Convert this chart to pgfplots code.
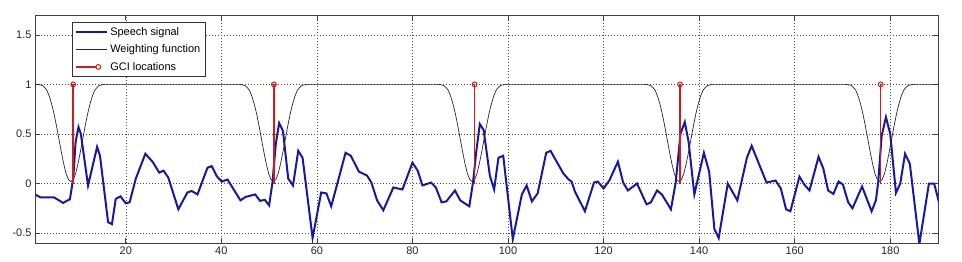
\documentclass[border=0pt]{standalone}
\usepackage{fontspec}
\setmainfont{Liberation Sans}
\usepackage{pgfplots}
\pgfplotsset{compat=1.18}
\definecolor{sigblue}{RGB}{25,25,160}
\definecolor{gcired}{RGB}{200,30,30}
\begin{document}
\begin{tikzpicture}
\path[use as bounding box] (-35bp,-19bp) rectangle (927bp,243bp);
\begin{axis}[
  at={(0,0)}, anchor=south west,
  scale only axis, width=903bp, height=228bp,
  xmin=1, xmax=190, ymin=-0.6, ymax=1.7,
  xtick={20,40,60,80,100,120,140,160,180},
  ytick={-0.5,0,0.5,1,1.5},
  yticklabels={-0.5,0,0.5,1,1.5},
  grid=major,
  grid style={black!70, line width=0.5bp, dash pattern=on 0.7bp off 2.3bp},
  axis line style={black!75, line width=0.7bp},
  tick style={black!75, line width=0.6bp},
  major tick length=5bp,
  tick align=inside,
  tick label style={font=\fontsize{11}{13}\selectfont, black!85},
  /pgf/number format/assume math mode=true,
  clip=true,
  legend cell align=left,
  legend image code/.code={\draw[#1] (0bp,0bp) -- (31bp,0bp);},
  legend style={at={(0.041,0.969)}, anchor=north west, draw=black!80,
    fill=white, font=\fontsize{11}{13}\selectfont, line width=0.6bp,
    inner xsep=3bp, inner ysep=3bp, row sep=4bp},
]
\addplot[sigblue, line width=2bp] coordinates {
(1.15,-0.115)(2.2,-0.14)(5.0,-0.14)(6.9,-0.196)(7.8,-0.17)(8.3,-0.16)(9.0,0.05)(9.5,0.42)(10.1,0.57)(10.6,0.50)(12.1,-0.02)(14.0,0.37)(14.6,0.28)(16.3,-0.39)(17.1,-0.41)(17.9,-0.155)(18.9,-0.13)(20.0,-0.20)(20.8,-0.19)(22.1,0.05)(24.1,0.30)(25.6,0.22)(27.0,0.11)(27.9,0.13)(28.9,0.06)(31.0,-0.26)(32.9,-0.09)(33.8,-0.075)(35.0,-0.11)(37.1,0.16)(38.0,0.175)(39.1,0.07)(40.1,0.02)(41.3,0.04)(44.0,-0.17)(45.1,-0.135)(47.1,-0.11)(48.1,-0.175)(49.1,-0.165)(50.0,-0.22)(50.7,0.01)(51.4,0.40)(52.1,0.61)(52.9,0.53)(54.0,0.05)(55.0,-0.02)(56.1,0.33)(57.0,0.26)(59.1,-0.55)(60.9,-0.09)(62.0,-0.10)(63.0,-0.23)(66.0,0.31)(67.1,0.28)(68.8,0.12)(70.5,0.08)(71.4,0.01)(72.6,-0.17)(73.9,-0.27)(76.0,-0.04)(77.9,-0.06)(80.0,0.21)(81.1,0.13)(82.1,-0.02)(83.9,0.01)(84.9,-0.04)(86.1,-0.19)(87.1,-0.18)(88.9,-0.07)(90.0,-0.17)(91.9,-0.23)(92.7,0.02)(93.3,0.30)(94.1,0.60)(94.9,0.54)(96.2,0.08)(97.1,-0.06)(98.0,0.26)(99.0,0.28)(101.0,-0.56)(102.9,-0.11)(103.9,-0.02)(105.0,-0.18)(106.2,-0.10)(108.0,0.31)(108.9,0.33)(111.6,0.10)(112.7,0.04)(113.3,0.02)(114.0,-0.08)(116.1,-0.28)(118.0,0.01)(118.8,0.02)(120.0,-0.05)(121.2,0.03)(123.0,0.22)(124.1,0.01)(125.1,-0.07)(127.0,0.0)(129.0,-0.21)(129.9,-0.19)(131.2,-0.07)(132.2,-0.11)(134.1,-0.26)(135.1,0.01)(136.1,0.50)(137.0,0.62)(137.8,0.42)(139.0,-0.11)(141.0,0.31)(142.1,0.12)(143.2,-0.46)(144.1,-0.55)(146.0,0.0)(148.0,-0.17)(150.0,0.26)(151.0,0.38)(154.1,0.01)(156.0,0.03)(157.1,-0.05)(158.2,-0.26)(159.1,-0.28)(161.0,0.07)(162.0,-0.01)(163.1,-0.07)(165.0,0.27)(166.0,0.15)(167.0,-0.07)(168.1,-0.105)(169.2,0.02)(170.1,-0.01)(171.2,-0.19)(172.1,-0.25)(174.1,-0.03)(176.1,-0.28)(177.0,-0.17)(177.5,0.02)(178.2,0.48)(179.1,0.67)(180.0,0.50)(181.2,-0.095)(182.1,0.0)(183.1,0.30)(184.1,0.20)(186.1,-0.61)(188.1,0.0)(189.2,0.0)(190.2,-0.19)
};
\addlegendentry{Speech signal}
\addplot[black!85, line width=0.7bp] coordinates {
(1,1)(1.5,1)(2.5,0.99)(3,0.97)(3.5,0.94)(4,0.88)(4.5,0.80)(5,0.70)(5.5,0.58)(6,0.45)(6.5,0.32)(7,0.20)(7.5,0.10)(8,0.04)(8.5,0.02)(9,0.04)(9.5,0.10)(10,0.20)(10.5,0.32)(11,0.45)(11.5,0.58)(12,0.70)(12.5,0.80)(13,0.88)(13.5,0.94)(14,0.97)(14.5,0.99)(15.5,1)
(43.9,1)(44.9,0.99)(45.4,0.97)(45.9,0.94)(46.4,0.88)(46.9,0.80)(47.4,0.70)(47.9,0.58)(48.4,0.45)(48.9,0.32)(49.4,0.20)(49.9,0.10)(50.4,0.04)(50.9,0.02)(51.4,0.04)(51.9,0.10)(52.4,0.20)(52.9,0.32)(53.4,0.45)(53.9,0.58)(54.4,0.70)(54.9,0.80)(55.4,0.88)(55.9,0.94)(56.4,0.97)(56.9,0.99)(57.9,1)
(85.5,1)(86.5,0.99)(87,0.97)(87.5,0.94)(88,0.88)(88.5,0.80)(89,0.70)(89.5,0.58)(90,0.45)(90.5,0.32)(91,0.20)(91.5,0.10)(92,0.04)(92.5,0.02)(93,0.04)(93.5,0.10)(94,0.20)(94.5,0.32)(95,0.45)(95.5,0.58)(96,0.70)(96.5,0.80)(97,0.88)(97.5,0.94)(98,0.97)(98.5,0.99)(99.5,1)
(128.8,1)(129.8,0.99)(130.3,0.97)(130.8,0.94)(131.3,0.88)(131.8,0.80)(132.3,0.70)(132.8,0.58)(133.3,0.45)(133.8,0.32)(134.3,0.20)(134.8,0.10)(135.3,0.04)(135.8,0.02)(136.3,0.04)(136.8,0.10)(137.3,0.20)(137.8,0.32)(138.3,0.45)(138.8,0.58)(139.3,0.70)(139.8,0.80)(140.3,0.88)(140.8,0.94)(141.3,0.97)(141.8,0.99)(142.8,1)
(170.8,1)(171.8,0.99)(172.3,0.97)(172.8,0.94)(173.3,0.88)(173.8,0.80)(174.3,0.70)(174.8,0.58)(175.3,0.45)(175.8,0.32)(176.3,0.20)(176.8,0.10)(177.3,0.04)(177.8,0.02)(178.3,0.04)(178.8,0.10)(179.3,0.20)(179.8,0.32)(180.3,0.45)(180.8,0.58)(181.3,0.70)(181.8,0.80)(182.3,0.88)(182.8,0.94)(183.3,0.97)(183.8,0.99)(184.8,1)(190,1)
};
\addlegendentry{Weighting function}
\addplot[ycomb, gcired, line width=1.6bp, mark=o, mark size=2.4bp,
  mark options={line width=1bp, fill=white},
  legend image code/.code={\draw[gcired, line width=1.6bp] (0bp,0bp) -- (22bp,0bp); \draw[gcired, line width=1bp, fill=white] (22bp,0bp) circle (2.4bp);}]
  coordinates {(9,1)(51,1)(93,1)(136,1)(178,1)};
\addlegendentry{GCI locations}
\end{axis}
\end{tikzpicture}
\end{document}
